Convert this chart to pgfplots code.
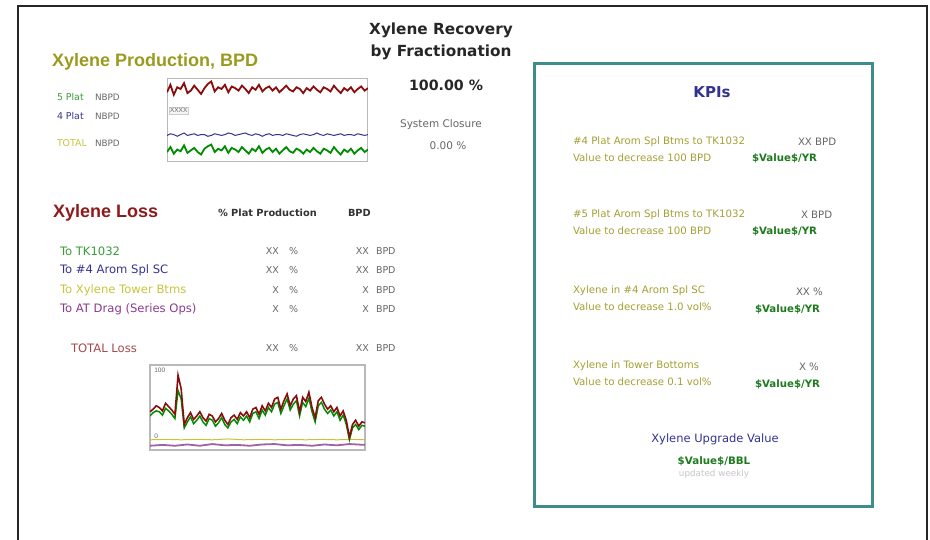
\documentclass[border=0pt]{standalone}
\usepackage{pgfplots}
\pgfplotsset{compat=1.18}
\usepackage{fontspec}
\setmainfont{Liberation Sans}
\newfontfamily\dv{DejaVu Sans}
\definecolor{olive1}{HTML}{9C9A1E}
\definecolor{oliveK}{HTML}{A5A033}
\definecolor{grn}{HTML}{3A9A3A}
\definecolor{dgrn}{HTML}{1E7A1E}
\definecolor{nav}{HTML}{33338F}
\definecolor{dred}{HTML}{8E1B1B}
\definecolor{purp}{HTML}{8A3A8E}
\definecolor{yel}{HTML}{C8C43A}
\definecolor{teal1}{HTML}{3F8C8C}
\definecolor{gtx}{HTML}{666666}
\definecolor{redl}{HTML}{8A0C0C}
\newcommand{\fs}[1]{\fontsize{#1}{#1}\selectfont}
\begin{document}
\begin{tikzpicture}[x=1pt,y=1pt,every node/.style={inner sep=0pt,outer sep=0pt}]
\path[use as bounding box] (0,0) rectangle (930,-540);
% outer frame
\draw[gray!30!black,line width=1.3pt] (18,-540) -- (18,-6) -- (927,-6) -- (927,-540);
% KPI box
\draw[teal1,line width=3pt,fill=white] (534,-64) rectangle (872,-506);

% ---- Production block
\node[anchor=west,text=olive1,font=\fs{18}\bfseries] at (52,-62) {Xylene Production, BPD};
\node[anchor=west,text=grn,font=\dv\fs{9.4}] at (57,-97) {5 Plat};
\node[anchor=west,text=nav,font=\dv\fs{9.4}] at (57,-116) {4 Plat};
\node[anchor=west,text=yel,font=\dv\fs{9.4}] at (57,-143) {TOTAL};
\node[anchor=west,text=gtx,font=\dv\fs{8.8}] at (95,-97) {NBPD};
\node[anchor=west,text=gtx,font=\dv\fs{8.8}] at (95,-116) {NBPD};
\node[anchor=west,text=gtx,font=\dv\fs{8.8}] at (95,-143) {NBPD};

\begin{axis}[at={(167pt,-79pt)},anchor=north west,width=201pt,height=83pt,scale only axis,
  xmin=0,xmax=59,ymin=0,ymax=100,xtick=\empty,ytick=\empty,
  axis line style={gray!55,line width=1pt}]
\addplot[redl,line width=1.8pt,no markers] coordinates {
(0,84)(1,93)(2,81)(3,90)(4,88)(5,95)(6,83)(7,86)(8,92)(9,87)(10,82)(11,89)(12,94)(13,97)(14,85)(15,90)(16,88)(17,93)(18,84)(19,91)
(20,89)(21,86)(22,92)(23,88)(24,83)(25,90)(26,87)(27,93)(28,85)(29,89)(30,91)(31,86)(32,90)(33,84)(34,88)(35,92)(36,87)(37,85)(38,90)(39,88)
(40,83)(41,89)(42,86)(43,91)(44,87)(45,84)(46,90)(47,88)(48,85)(49,92)(50,87)(51,83)(52,89)(53,86)(54,90)(55,84)(56,88)(57,91)(58,86)(59,89)};
\addplot[nav,line width=1pt,no markers] coordinates {
(0,32)(1,34)(2,33)(3,31)(4,33)(5,35)(6,32)(7,33)(8,34)(9,32)(10,33)(11,33)(12,31)(13,32)(14,34)(15,33)(16,32)(17,33)(18,35)(19,34)
(20,32)(21,33)(22,34)(23,35)(24,33)(25,32)(26,34)(27,33)(28,31)(29,33)(30,34)(31,32)(32,33)(33,33)(34,32)(35,34)(36,33)(37,32)(38,31)(39,33)
(40,34)(41,33)(42,32)(43,33)(44,35)(45,33)(46,32)(47,34)(48,33)(49,32)(50,33)(51,34)(52,32)(53,33)(54,33)(55,32)(56,34)(57,33)(58,32)(59,33)};
\addplot[green!55!black,line width=1.8pt,no markers] coordinates {
(0,12)(1,18)(2,10)(3,15)(4,13)(5,20)(6,11)(7,14)(8,17)(9,12)(10,9)(11,16)(12,19)(13,21)(14,12)(15,16)(16,14)(17,19)(18,11)(19,17)
(20,15)(21,12)(22,18)(23,14)(24,10)(25,16)(26,13)(27,19)(28,11)(29,15)(30,17)(31,12)(32,16)(33,10)(34,14)(35,18)(36,13)(37,11)(38,16)(39,14)
(40,10)(41,15)(42,12)(43,17)(44,13)(45,10)(46,16)(47,14)(48,11)(49,18)(50,13)(51,9)(52,15)(53,12)(54,16)(55,10)(56,14)(57,17)(58,12)(59,15)};
\node[anchor=west,draw=gray!40,fill=gray!8,inner sep=1pt,text=gtx,font=\fs{6.5}] at (rel axis cs:0.01,0.62) {XXXX};
\end{axis}

% ---- Title block
\node[text=black!85,font=\dv\fs{15.3}\bfseries] at (441,-30) {Xylene Recovery};
\node[text=black!85,font=\dv\fs{15.3}\bfseries] at (441,-52) {by Fractionation};
\node[text=black!85,font=\dv\fs{14.2}\bfseries] at (446,-85) {100.00 \%};
\node[text=gtx,font=\dv\fs{10.5}] at (441,-125) {System Closure};
\node[text=gtx,font=\dv\fs{10.5}] at (448,-146) {0.00 \%};

% ---- Loss block
\node[anchor=west,text=dred,font=\fs{18}\bfseries] at (53,-213) {Xylene Loss};
\node[anchor=west,text=black!80,font=\dv\fs{9.8}\bfseries] at (218,-213) {\% Plat Production};
\node[anchor=west,text=black!80,font=\dv\fs{9.8}\bfseries] at (348,-213) {BPD};
\node[anchor=west,text=grn,font=\dv\fs{11.6}] at (60,-251) {To TK1032};
\node[anchor=west,text=nav,font=\dv\fs{11.6}] at (60,-270) {To \#4 Arom Spl SC};
\node[anchor=west,text=yel,font=\dv\fs{11.6}] at (60,-290) {To Xylene Tower Btms};
\node[anchor=west,text=purp,font=\dv\fs{11.6}] at (60,-309) {To AT Drag (Series Ops)};
\node[anchor=west,text=dred!80,font=\dv\fs{11.6}] at (71,-348) {TOTAL Loss};
\foreach \y/\v in {251/XX,270/XX,290/X,309/X,348/XX}{
  \node[anchor=east,text=gtx,font=\dv\fs{9.5}] at (279,-\y) {\v};
  \node[anchor=west,text=gtx,font=\dv\fs{9.5}] at (289,-\y) {\%};
  \node[anchor=east,text=gtx,font=\dv\fs{9.5}] at (369,-\y) {\v};
  \node[anchor=west,text=gtx,font=\dv\fs{9.5}] at (376,-\y) {BPD};
}

\begin{axis}[at={(150pt,-365pt)},anchor=north west,width=215pt,height=85pt,scale only axis,
  xmin=0,xmax=69,ymin=0,ymax=100,xtick=\empty,ytick=\empty,
  axis line style={gray!55,line width=1.5pt}]
\addplot[yel,line width=1pt,no markers] coordinates {
(0,12)(5,12.5)(10,12)(15,12.5)(20,12)(25,13)(30,12)(35,12.5)(40,12)(45,12.5)(50,12)(55,12.5)(60,12)(65,12.5)(69,12)};
\addplot[purp!80,line width=1.8pt,no markers] coordinates {
(0,5)(4,6)(8,5)(12,6.5)(16,5)(20,7)(24,5.5)(28,6)(32,5)(36,6.5)(40,7)(44,5.5)(48,6)(52,5)(56,6.5)(60,5.5)(64,7)(69,6)};
\addplot[green!55!black,line width=1.5pt,no markers] coordinates {
(0,40)(1,44)(2,46)(3,45)(4,41)(5,49)(6,46)(7,42)(8,37)(9,70)(10,60)(11,26)(12,33)(13,39)(14,31)(15,35)(16,40)(17,33)(18,29)(19,37)
(20,35)(21,28)(22,32)(23,38)(24,30)(25,26)(26,33)(27,36)(28,31)(29,39)(30,35)(31,40)(32,33)(33,43)(34,45)(35,37)(36,47)(37,41)(38,50)(39,45)
(40,54)(41,56)(42,43)(43,52)(44,60)(45,47)(46,54)(47,58)(48,40)(49,56)(50,51)(51,61)(52,45)(53,33)(54,52)(55,56)(56,48)(57,43)(58,47)(59,40)
(60,45)(61,35)(62,41)(63,30)(64,12)(65,26)(66,30)(67,24)(68,29)(69,28)};
\addplot[redl,line width=1.6pt,no markers] coordinates {
(0,45)(1,48)(2,52)(3,50)(4,46)(5,55)(6,51)(7,47)(8,42)(9,88)(10,72)(11,30)(12,38)(13,44)(14,36)(15,40)(16,45)(17,38)(18,34)(19,42)
(20,40)(21,33)(22,37)(23,43)(24,35)(25,30)(26,38)(27,41)(28,36)(29,44)(30,40)(31,45)(32,38)(33,48)(34,50)(35,42)(36,52)(37,46)(38,55)(39,50)
(40,60)(41,62)(42,48)(43,58)(44,66)(45,52)(46,60)(47,64)(48,45)(49,62)(50,57)(51,68)(52,50)(53,38)(54,58)(55,62)(56,54)(57,48)(58,52)(59,45)
(60,50)(61,40)(62,46)(63,35)(64,15)(65,30)(66,35)(67,28)(68,33)(69,32)};
\node[anchor=north west,text=gtx,font=\fs{6.5}] at (rel axis cs:0.02,0.96) {100};
\node[anchor=west,text=gtx,font=\fs{6.5}] at (rel axis cs:0.02,0.16) {0};
\end{axis}

% ---- KPI block
\node[text=nav,font=\dv\fs{15}\bfseries] at (712,-92) {KPIs};
\node[anchor=west,text=oliveK,font=\dv\fs{10.2}] at (573,-142) {\#4 Plat Arom Spl Btms to TK1032};
\node[anchor=west,text=gtx,font=\dv\fs{10.2}] at (798,-142) {XX BPD};
\node[anchor=west,text=oliveK,font=\dv\fs{10.2}] at (573,-158) {Value to decrease 100 BPD};
\node[anchor=west,text=dgrn,font=\dv\fs{10.2}\bfseries] at (752,-158) {\$Value\$/YR};

\node[anchor=west,text=oliveK,font=\dv\fs{10.2}] at (573,-215) {\#5 Plat Arom Spl Btms to TK1032};
\node[anchor=west,text=gtx,font=\dv\fs{10.2}] at (801,-215) {X BPD};
\node[anchor=west,text=oliveK,font=\dv\fs{10.2}] at (573,-231) {Value to decrease 100 BPD};
\node[anchor=west,text=dgrn,font=\dv\fs{10.2}\bfseries] at (752,-231) {\$Value\$/YR};

\node[anchor=west,text=oliveK,font=\dv\fs{10.2}] at (573,-291) {Xylene in \#4 Arom Spl SC};
\node[anchor=west,text=gtx,font=\dv\fs{10.2}] at (796,-292) {XX \%};
\node[anchor=west,text=oliveK,font=\dv\fs{10.2}] at (573,-307) {Value to decrease 1.0 vol\%};
\node[anchor=west,text=dgrn,font=\dv\fs{10.2}\bfseries] at (755,-309) {\$Value\$/YR};

\node[anchor=west,text=oliveK,font=\dv\fs{10.2}] at (573,-366) {Xylene in Tower Bottoms};
\node[anchor=west,text=gtx,font=\dv\fs{10.2}] at (799,-367) {X \%};
\node[anchor=west,text=oliveK,font=\dv\fs{10.2}] at (573,-382) {Value to decrease 0.1 vol\%};
\node[anchor=west,text=dgrn,font=\dv\fs{10.2}\bfseries] at (755,-384) {\$Value\$/YR};

\node[text=nav,font=\dv\fs{11.5}] at (715,-439) {Xylene Upgrade Value};
\node[text=dgrn,font=\dv\fs{10.3}\bfseries] at (714,-461) {\$Value\$/BBL};
\node[text=gray!45,font=\dv\fs{8.8}] at (714,-474) {updated weekly};
\end{tikzpicture}
\end{document}
